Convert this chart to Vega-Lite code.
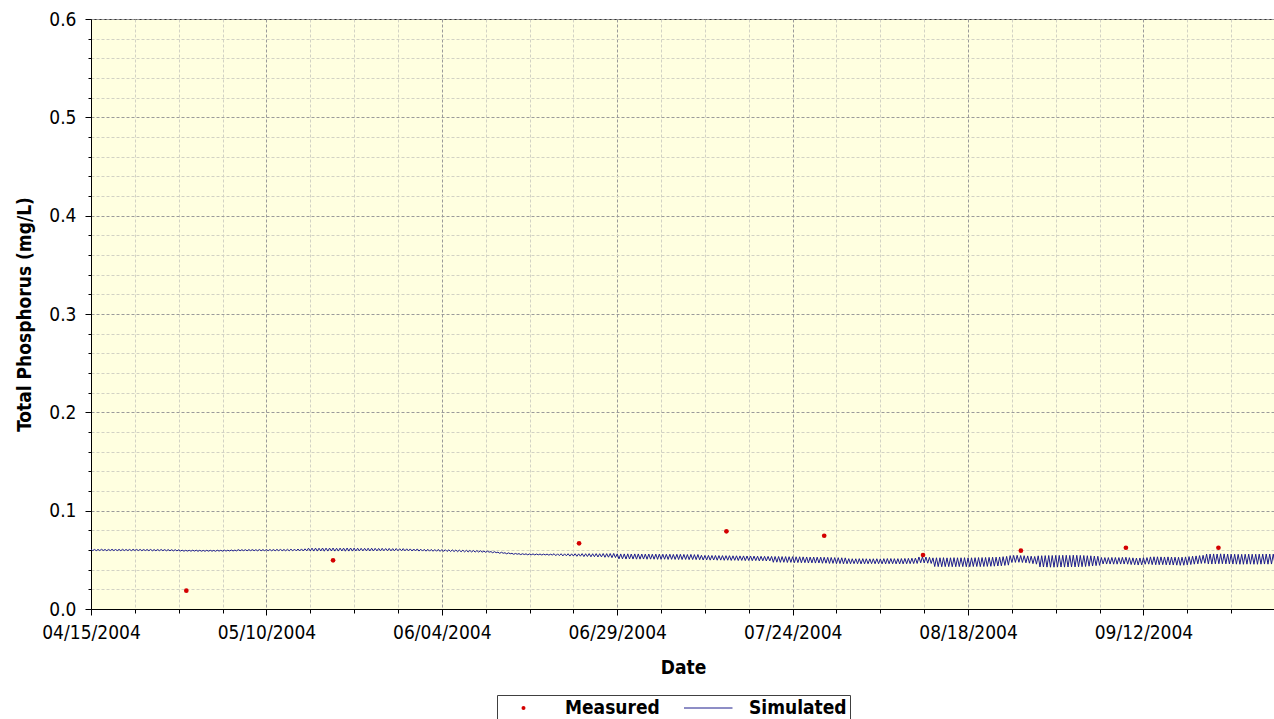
{
"$schema":"https://vega.github.io/schema/vega-lite/v6.json",
"width":1184,"height":590,
"autosize":{"type":"none"},
"padding":{"left":91,"top":19,"right":0,"bottom":110},
"background":"white",
"config":{"view":{"fill":"#FFFFE0","stroke":"#333333","strokeWidth":1},"font":"DejaVu Sans Condensed"},
"datasets":{
"measured":[
{"t":"2004-04-28T14:00","v":0.0186},{"t":"2004-05-19T12:00","v":0.0495},{"t":"2004-06-23T13:30","v":0.0668},{"t":"2004-07-14T13:30","v":0.079},{"t":"2004-07-28T12:00","v":0.0745},{"t":"2004-08-11T14:00","v":0.0549},{"t":"2004-08-25T12:45","v":0.0593},{"t":"2004-09-09T12:00","v":0.0623},{"t":"2004-09-22T16:30","v":0.0623}
],
"simulated":[
{"t":"2004-04-15T00:00","v":0.0607},{"t":"2004-04-15T06:00","v":0.0594},{"t":"2004-04-15T12:00","v":0.0606},{"t":"2004-04-15T18:00","v":0.0593},
{"t":"2004-04-16T00:00","v":0.0606},{"t":"2004-04-16T06:00","v":0.0594},{"t":"2004-04-16T12:00","v":0.0607},{"t":"2004-04-16T18:00","v":0.0595},
{"t":"2004-04-17T00:00","v":0.0605},{"t":"2004-04-17T06:00","v":0.0593},{"t":"2004-04-17T12:00","v":0.0606},{"t":"2004-04-17T18:00","v":0.0594},
{"t":"2004-04-18T00:00","v":0.0607},{"t":"2004-04-18T06:00","v":0.0594},{"t":"2004-04-18T12:00","v":0.0605},{"t":"2004-04-18T18:00","v":0.0594},
{"t":"2004-04-19T00:00","v":0.0606},{"t":"2004-04-19T06:00","v":0.0593},{"t":"2004-04-19T12:00","v":0.0607},{"t":"2004-04-19T18:00","v":0.0594},
{"t":"2004-04-20T00:00","v":0.0605},{"t":"2004-04-20T06:00","v":0.0594},{"t":"2004-04-20T12:00","v":0.0606},{"t":"2004-04-20T18:00","v":0.0593},
{"t":"2004-04-21T00:00","v":0.0607},{"t":"2004-04-21T06:00","v":0.0595},{"t":"2004-04-21T12:00","v":0.0606},{"t":"2004-04-21T18:00","v":0.0594},
{"t":"2004-04-22T00:00","v":0.0606},{"t":"2004-04-22T06:00","v":0.0593},{"t":"2004-04-22T12:00","v":0.0605},{"t":"2004-04-22T18:00","v":0.0594},
{"t":"2004-04-23T00:00","v":0.0605},{"t":"2004-04-23T06:00","v":0.0593},{"t":"2004-04-23T12:00","v":0.0606},{"t":"2004-04-23T18:00","v":0.0592},
{"t":"2004-04-24T00:00","v":0.0604},{"t":"2004-04-24T06:00","v":0.0592},{"t":"2004-04-24T12:00","v":0.0605},{"t":"2004-04-24T18:00","v":0.0593},
{"t":"2004-04-25T00:00","v":0.0605},{"t":"2004-04-25T06:00","v":0.0593},{"t":"2004-04-25T12:00","v":0.0604},{"t":"2004-04-25T18:00","v":0.0592},
{"t":"2004-04-26T00:00","v":0.0604},{"t":"2004-04-26T06:00","v":0.0592},{"t":"2004-04-26T12:00","v":0.0603},{"t":"2004-04-26T18:00","v":0.0591},
{"t":"2004-04-27T00:00","v":0.0603},{"t":"2004-04-27T06:00","v":0.0591},{"t":"2004-04-27T12:00","v":0.0602},{"t":"2004-04-27T18:00","v":0.059},
{"t":"2004-04-28T00:00","v":0.0598},{"t":"2004-04-28T06:00","v":0.0588},{"t":"2004-04-28T12:00","v":0.0597},{"t":"2004-04-28T18:00","v":0.0589},
{"t":"2004-04-29T00:00","v":0.0597},{"t":"2004-04-29T06:00","v":0.0588},{"t":"2004-04-29T12:00","v":0.0598},{"t":"2004-04-29T18:00","v":0.0589},
{"t":"2004-04-30T00:00","v":0.0598},{"t":"2004-04-30T06:00","v":0.0587},{"t":"2004-04-30T12:00","v":0.0597},{"t":"2004-04-30T18:00","v":0.0588},
{"t":"2004-05-01T00:00","v":0.0596},{"t":"2004-05-01T06:00","v":0.0587},{"t":"2004-05-01T12:00","v":0.0597},{"t":"2004-05-01T18:00","v":0.0588},
{"t":"2004-05-02T00:00","v":0.0597},{"t":"2004-05-02T06:00","v":0.0588},{"t":"2004-05-02T12:00","v":0.0596},{"t":"2004-05-02T18:00","v":0.0587},
{"t":"2004-05-03T00:00","v":0.0598},{"t":"2004-05-03T06:00","v":0.0589},{"t":"2004-05-03T12:00","v":0.0597},{"t":"2004-05-03T18:00","v":0.0588},
{"t":"2004-05-04T00:00","v":0.0599},{"t":"2004-05-04T06:00","v":0.0589},{"t":"2004-05-04T12:00","v":0.0598},{"t":"2004-05-04T18:00","v":0.059},
{"t":"2004-05-05T00:00","v":0.06},{"t":"2004-05-05T06:00","v":0.059},{"t":"2004-05-05T12:00","v":0.0599},{"t":"2004-05-05T18:00","v":0.0591},
{"t":"2004-05-06T00:00","v":0.0604},{"t":"2004-05-06T06:00","v":0.0592},{"t":"2004-05-06T12:00","v":0.0603},{"t":"2004-05-06T18:00","v":0.0593},
{"t":"2004-05-07T00:00","v":0.0603},{"t":"2004-05-07T06:00","v":0.0592},{"t":"2004-05-07T12:00","v":0.0604},{"t":"2004-05-07T18:00","v":0.0593},
{"t":"2004-05-08T00:00","v":0.0604},{"t":"2004-05-08T06:00","v":0.0593},{"t":"2004-05-08T12:00","v":0.0603},{"t":"2004-05-08T18:00","v":0.0592},
{"t":"2004-05-09T00:00","v":0.0605},{"t":"2004-05-09T06:00","v":0.0592},{"t":"2004-05-09T12:00","v":0.0604},{"t":"2004-05-09T18:00","v":0.0593},
{"t":"2004-05-10T00:00","v":0.0604},{"t":"2004-05-10T06:00","v":0.0593},{"t":"2004-05-10T12:00","v":0.0605},{"t":"2004-05-10T18:00","v":0.0592},
{"t":"2004-05-11T00:00","v":0.0605},{"t":"2004-05-11T06:00","v":0.0592},{"t":"2004-05-11T12:00","v":0.0606},{"t":"2004-05-11T18:00","v":0.0593},
{"t":"2004-05-12T00:00","v":0.0606},{"t":"2004-05-12T06:00","v":0.0593},{"t":"2004-05-12T12:00","v":0.0605},{"t":"2004-05-12T18:00","v":0.0592},
{"t":"2004-05-13T00:00","v":0.0607},{"t":"2004-05-13T06:00","v":0.0592},{"t":"2004-05-13T12:00","v":0.0608},{"t":"2004-05-13T18:00","v":0.0591},
{"t":"2004-05-14T00:00","v":0.0609},{"t":"2004-05-14T06:00","v":0.0591},{"t":"2004-05-14T12:00","v":0.061},{"t":"2004-05-14T18:00","v":0.059},
{"t":"2004-05-15T00:00","v":0.0611},{"t":"2004-05-15T06:00","v":0.059},{"t":"2004-05-15T12:00","v":0.0612},{"t":"2004-05-15T18:00","v":0.0591},
{"t":"2004-05-16T00:00","v":0.0618},{"t":"2004-05-16T06:00","v":0.059},{"t":"2004-05-16T12:00","v":0.0619},{"t":"2004-05-16T18:00","v":0.0589},
{"t":"2004-05-17T00:00","v":0.0619},{"t":"2004-05-17T06:00","v":0.0589},{"t":"2004-05-17T12:00","v":0.0618},{"t":"2004-05-17T18:00","v":0.059},
{"t":"2004-05-18T00:00","v":0.062},{"t":"2004-05-18T06:00","v":0.0588},{"t":"2004-05-18T12:00","v":0.0619},{"t":"2004-05-18T18:00","v":0.0589},
{"t":"2004-05-19T00:00","v":0.0619},{"t":"2004-05-19T06:00","v":0.059},{"t":"2004-05-19T12:00","v":0.062},{"t":"2004-05-19T18:00","v":0.0589},
{"t":"2004-05-20T00:00","v":0.0618},{"t":"2004-05-20T06:00","v":0.0589},{"t":"2004-05-20T12:00","v":0.0619},{"t":"2004-05-20T18:00","v":0.059},
{"t":"2004-05-21T00:00","v":0.0619},{"t":"2004-05-21T06:00","v":0.0588},{"t":"2004-05-21T12:00","v":0.062},{"t":"2004-05-21T18:00","v":0.0589},
{"t":"2004-05-22T00:00","v":0.062},{"t":"2004-05-22T06:00","v":0.0589},{"t":"2004-05-22T12:00","v":0.0619},{"t":"2004-05-22T18:00","v":0.059},
{"t":"2004-05-23T00:00","v":0.0618},{"t":"2004-05-23T06:00","v":0.059},{"t":"2004-05-23T12:00","v":0.0617},{"t":"2004-05-23T18:00","v":0.0591},
{"t":"2004-05-24T00:00","v":0.0617},{"t":"2004-05-24T06:00","v":0.0591},{"t":"2004-05-24T12:00","v":0.0618},{"t":"2004-05-24T18:00","v":0.059},
{"t":"2004-05-25T00:00","v":0.0618},{"t":"2004-05-25T06:00","v":0.059},{"t":"2004-05-25T12:00","v":0.0617},{"t":"2004-05-25T18:00","v":0.0591},
{"t":"2004-05-26T00:00","v":0.0616},{"t":"2004-05-26T06:00","v":0.0591},{"t":"2004-05-26T12:00","v":0.0617},{"t":"2004-05-26T18:00","v":0.0592},
{"t":"2004-05-27T00:00","v":0.0615},{"t":"2004-05-27T06:00","v":0.0592},{"t":"2004-05-27T12:00","v":0.0616},{"t":"2004-05-27T18:00","v":0.0591},
{"t":"2004-05-28T00:00","v":0.0614},{"t":"2004-05-28T06:00","v":0.0591},{"t":"2004-05-28T12:00","v":0.0615},{"t":"2004-05-28T18:00","v":0.0592},
{"t":"2004-05-29T00:00","v":0.0613},{"t":"2004-05-29T06:00","v":0.0592},{"t":"2004-05-29T12:00","v":0.0614},{"t":"2004-05-29T18:00","v":0.0591},
{"t":"2004-05-30T00:00","v":0.0612},{"t":"2004-05-30T06:00","v":0.0591},{"t":"2004-05-30T12:00","v":0.0611},{"t":"2004-05-30T18:00","v":0.059},
{"t":"2004-05-31T00:00","v":0.061},{"t":"2004-05-31T06:00","v":0.059},{"t":"2004-05-31T12:00","v":0.0611},{"t":"2004-05-31T18:00","v":0.0589},
{"t":"2004-06-01T00:00","v":0.0608},{"t":"2004-06-01T06:00","v":0.0589},{"t":"2004-06-01T12:00","v":0.0607},{"t":"2004-06-01T18:00","v":0.0588},
{"t":"2004-06-02T00:00","v":0.0607},{"t":"2004-06-02T06:00","v":0.0588},{"t":"2004-06-02T12:00","v":0.0606},{"t":"2004-06-02T18:00","v":0.0587},
{"t":"2004-06-03T00:00","v":0.0605},{"t":"2004-06-03T06:00","v":0.0587},{"t":"2004-06-03T12:00","v":0.0606},{"t":"2004-06-03T18:00","v":0.0586},
{"t":"2004-06-04T00:00","v":0.0604},{"t":"2004-06-04T06:00","v":0.0586},{"t":"2004-06-04T12:00","v":0.0603},{"t":"2004-06-04T18:00","v":0.0585},
{"t":"2004-06-05T00:00","v":0.0602},{"t":"2004-06-05T06:00","v":0.0585},{"t":"2004-06-05T12:00","v":0.0601},{"t":"2004-06-05T18:00","v":0.0584},
{"t":"2004-06-06T00:00","v":0.06},{"t":"2004-06-06T06:00","v":0.0583},{"t":"2004-06-06T12:00","v":0.0599},{"t":"2004-06-06T18:00","v":0.0582},
{"t":"2004-06-07T00:00","v":0.0598},{"t":"2004-06-07T06:00","v":0.0581},{"t":"2004-06-07T12:00","v":0.0597},{"t":"2004-06-07T18:00","v":0.058},
{"t":"2004-06-08T00:00","v":0.0596},{"t":"2004-06-08T06:00","v":0.058},{"t":"2004-06-08T12:00","v":0.0595},{"t":"2004-06-08T18:00","v":0.0579},
{"t":"2004-06-09T00:00","v":0.0594},{"t":"2004-06-09T06:00","v":0.0579},{"t":"2004-06-09T12:00","v":0.0593},{"t":"2004-06-09T18:00","v":0.0578},
{"t":"2004-06-10T00:00","v":0.0589},{"t":"2004-06-10T06:00","v":0.0577},{"t":"2004-06-10T12:00","v":0.0588},{"t":"2004-06-10T18:00","v":0.0578},
{"t":"2004-06-11T00:00","v":0.0584},{"t":"2004-06-11T06:00","v":0.0572},{"t":"2004-06-11T12:00","v":0.0583},{"t":"2004-06-11T18:00","v":0.0573},
{"t":"2004-06-12T00:00","v":0.0578},{"t":"2004-06-12T06:00","v":0.0566},{"t":"2004-06-12T12:00","v":0.0577},{"t":"2004-06-12T18:00","v":0.0567},
{"t":"2004-06-13T00:00","v":0.0572},{"t":"2004-06-13T06:00","v":0.0561},{"t":"2004-06-13T12:00","v":0.0571},{"t":"2004-06-13T18:00","v":0.0562},
{"t":"2004-06-14T00:00","v":0.0566},{"t":"2004-06-14T06:00","v":0.0556},{"t":"2004-06-14T12:00","v":0.0565},{"t":"2004-06-14T18:00","v":0.0557},
{"t":"2004-06-15T00:00","v":0.0563},{"t":"2004-06-15T06:00","v":0.0553},{"t":"2004-06-15T12:00","v":0.0562},{"t":"2004-06-15T18:00","v":0.0554},
{"t":"2004-06-16T00:00","v":0.0561},{"t":"2004-06-16T06:00","v":0.0551},{"t":"2004-06-16T12:00","v":0.056},{"t":"2004-06-16T18:00","v":0.0552},
{"t":"2004-06-17T00:00","v":0.056},{"t":"2004-06-17T06:00","v":0.055},{"t":"2004-06-17T12:00","v":0.0559},{"t":"2004-06-17T18:00","v":0.0551},
{"t":"2004-06-18T00:00","v":0.0559},{"t":"2004-06-18T06:00","v":0.0549},{"t":"2004-06-18T12:00","v":0.0558},{"t":"2004-06-18T18:00","v":0.055},
{"t":"2004-06-19T00:00","v":0.0558},{"t":"2004-06-19T06:00","v":0.0548},{"t":"2004-06-19T12:00","v":0.0557},{"t":"2004-06-19T18:00","v":0.0549},
{"t":"2004-06-20T00:00","v":0.0562},{"t":"2004-06-20T06:00","v":0.0542},{"t":"2004-06-20T12:00","v":0.0561},{"t":"2004-06-20T18:00","v":0.0543},
{"t":"2004-06-21T00:00","v":0.0562},{"t":"2004-06-21T06:00","v":0.054},{"t":"2004-06-21T12:00","v":0.0561},{"t":"2004-06-21T18:00","v":0.0541},
{"t":"2004-06-22T00:00","v":0.0562},{"t":"2004-06-22T06:00","v":0.0538},{"t":"2004-06-22T12:00","v":0.0561},{"t":"2004-06-22T18:00","v":0.0539},
{"t":"2004-06-23T00:00","v":0.0562},{"t":"2004-06-23T06:00","v":0.0536},{"t":"2004-06-23T12:00","v":0.0561},{"t":"2004-06-23T18:00","v":0.0537},
{"t":"2004-06-24T00:00","v":0.0563},{"t":"2004-06-24T06:00","v":0.0533},{"t":"2004-06-24T12:00","v":0.0562},{"t":"2004-06-24T18:00","v":0.0534},
{"t":"2004-06-25T00:00","v":0.0563},{"t":"2004-06-25T06:00","v":0.0531},{"t":"2004-06-25T12:00","v":0.0562},{"t":"2004-06-25T18:00","v":0.0532},
{"t":"2004-06-26T00:00","v":0.0563},{"t":"2004-06-26T06:00","v":0.0529},{"t":"2004-06-26T12:00","v":0.0562},{"t":"2004-06-26T18:00","v":0.053},
{"t":"2004-06-27T00:00","v":0.0564},{"t":"2004-06-27T06:00","v":0.0526},{"t":"2004-06-27T12:00","v":0.0563},{"t":"2004-06-27T18:00","v":0.0527},
{"t":"2004-06-28T00:00","v":0.0564},{"t":"2004-06-28T06:00","v":0.0522},{"t":"2004-06-28T12:00","v":0.0565},{"t":"2004-06-28T18:00","v":0.0523},
{"t":"2004-06-29T00:00","v":0.0561},{"t":"2004-06-29T06:00","v":0.0509},{"t":"2004-06-29T12:00","v":0.056},{"t":"2004-06-29T18:00","v":0.051},
{"t":"2004-06-30T00:00","v":0.056},{"t":"2004-06-30T06:00","v":0.0508},{"t":"2004-06-30T12:00","v":0.0561},{"t":"2004-06-30T18:00","v":0.0509},
{"t":"2004-07-01T00:00","v":0.0559},{"t":"2004-07-01T06:00","v":0.0508},{"t":"2004-07-01T12:00","v":0.056},{"t":"2004-07-01T18:00","v":0.0507},
{"t":"2004-07-02T00:00","v":0.056},{"t":"2004-07-02T06:00","v":0.0507},{"t":"2004-07-02T12:00","v":0.0559},{"t":"2004-07-02T18:00","v":0.0508},
{"t":"2004-07-03T00:00","v":0.0558},{"t":"2004-07-03T06:00","v":0.0506},{"t":"2004-07-03T12:00","v":0.0559},{"t":"2004-07-03T18:00","v":0.0507},
{"t":"2004-07-04T00:00","v":0.0557},{"t":"2004-07-04T06:00","v":0.0506},{"t":"2004-07-04T12:00","v":0.0558},{"t":"2004-07-04T18:00","v":0.0505},
{"t":"2004-07-05T00:00","v":0.0558},{"t":"2004-07-05T06:00","v":0.0505},{"t":"2004-07-05T12:00","v":0.0557},{"t":"2004-07-05T18:00","v":0.0506},
{"t":"2004-07-06T00:00","v":0.0556},{"t":"2004-07-06T06:00","v":0.0504},{"t":"2004-07-06T12:00","v":0.0557},{"t":"2004-07-06T18:00","v":0.0505},
{"t":"2004-07-07T00:00","v":0.0555},{"t":"2004-07-07T06:00","v":0.0504},{"t":"2004-07-07T12:00","v":0.0556},{"t":"2004-07-07T18:00","v":0.0503},
{"t":"2004-07-08T00:00","v":0.0556},{"t":"2004-07-08T06:00","v":0.0503},{"t":"2004-07-08T12:00","v":0.0555},{"t":"2004-07-08T18:00","v":0.0504},
{"t":"2004-07-09T00:00","v":0.0554},{"t":"2004-07-09T06:00","v":0.0502},{"t":"2004-07-09T12:00","v":0.0555},{"t":"2004-07-09T18:00","v":0.0503},
{"t":"2004-07-10T00:00","v":0.0553},{"t":"2004-07-10T06:00","v":0.0502},{"t":"2004-07-10T12:00","v":0.0554},{"t":"2004-07-10T18:00","v":0.0501},
{"t":"2004-07-11T00:00","v":0.0546},{"t":"2004-07-11T06:00","v":0.0498},{"t":"2004-07-11T12:00","v":0.0545},{"t":"2004-07-11T18:00","v":0.0499},
{"t":"2004-07-12T00:00","v":0.0545},{"t":"2004-07-12T06:00","v":0.0497},{"t":"2004-07-12T12:00","v":0.0544},{"t":"2004-07-12T18:00","v":0.0498},
{"t":"2004-07-13T00:00","v":0.0544},{"t":"2004-07-13T06:00","v":0.0496},{"t":"2004-07-13T12:00","v":0.0543},{"t":"2004-07-13T18:00","v":0.0497},
{"t":"2004-07-14T00:00","v":0.0543},{"t":"2004-07-14T06:00","v":0.0495},{"t":"2004-07-14T12:00","v":0.0542},{"t":"2004-07-14T18:00","v":0.0496},
{"t":"2004-07-15T00:00","v":0.0542},{"t":"2004-07-15T06:00","v":0.0494},{"t":"2004-07-15T12:00","v":0.0541},{"t":"2004-07-15T18:00","v":0.0495},
{"t":"2004-07-16T00:00","v":0.0541},{"t":"2004-07-16T06:00","v":0.0493},{"t":"2004-07-16T12:00","v":0.054},{"t":"2004-07-16T18:00","v":0.0494},
{"t":"2004-07-17T00:00","v":0.054},{"t":"2004-07-17T06:00","v":0.0492},{"t":"2004-07-17T12:00","v":0.0539},{"t":"2004-07-17T18:00","v":0.0493},
{"t":"2004-07-18T00:00","v":0.0539},{"t":"2004-07-18T06:00","v":0.0491},{"t":"2004-07-18T12:00","v":0.0538},{"t":"2004-07-18T18:00","v":0.0492},
{"t":"2004-07-19T00:00","v":0.0537},{"t":"2004-07-19T06:00","v":0.0489},{"t":"2004-07-19T12:00","v":0.0536},{"t":"2004-07-19T18:00","v":0.049},
{"t":"2004-07-20T00:00","v":0.0536},{"t":"2004-07-20T06:00","v":0.0488},{"t":"2004-07-20T12:00","v":0.0535},{"t":"2004-07-20T18:00","v":0.0489},
{"t":"2004-07-21T00:00","v":0.0535},{"t":"2004-07-21T06:00","v":0.0475},{"t":"2004-07-21T12:00","v":0.0534},{"t":"2004-07-21T18:00","v":0.0476},
{"t":"2004-07-22T00:00","v":0.0534},{"t":"2004-07-22T06:00","v":0.0474},{"t":"2004-07-22T12:00","v":0.0533},{"t":"2004-07-22T18:00","v":0.0475},
{"t":"2004-07-23T00:00","v":0.0533},{"t":"2004-07-23T06:00","v":0.0473},{"t":"2004-07-23T12:00","v":0.0532},{"t":"2004-07-23T18:00","v":0.0474},
{"t":"2004-07-24T00:00","v":0.0532},{"t":"2004-07-24T06:00","v":0.0471},{"t":"2004-07-24T12:00","v":0.0531},{"t":"2004-07-24T18:00","v":0.0472},
{"t":"2004-07-25T00:00","v":0.0531},{"t":"2004-07-25T06:00","v":0.047},{"t":"2004-07-25T12:00","v":0.053},{"t":"2004-07-25T18:00","v":0.0471},
{"t":"2004-07-26T00:00","v":0.0529},{"t":"2004-07-26T06:00","v":0.0468},{"t":"2004-07-26T12:00","v":0.0528},{"t":"2004-07-26T18:00","v":0.0469},
{"t":"2004-07-27T00:00","v":0.0528},{"t":"2004-07-27T06:00","v":0.0467},{"t":"2004-07-27T12:00","v":0.0527},{"t":"2004-07-27T18:00","v":0.0468},
{"t":"2004-07-28T00:00","v":0.0527},{"t":"2004-07-28T06:00","v":0.0465},{"t":"2004-07-28T12:00","v":0.0526},{"t":"2004-07-28T18:00","v":0.0466},
{"t":"2004-07-29T00:00","v":0.0525},{"t":"2004-07-29T06:00","v":0.0463},{"t":"2004-07-29T12:00","v":0.0524},{"t":"2004-07-29T18:00","v":0.0464},
{"t":"2004-07-30T00:00","v":0.0523},{"t":"2004-07-30T06:00","v":0.0461},{"t":"2004-07-30T12:00","v":0.0522},{"t":"2004-07-30T18:00","v":0.0462},
{"t":"2004-07-31T00:00","v":0.0521},{"t":"2004-07-31T06:00","v":0.0459},{"t":"2004-07-31T12:00","v":0.052},{"t":"2004-07-31T18:00","v":0.046},
{"t":"2004-08-01T00:00","v":0.0512},{"t":"2004-08-01T06:00","v":0.046},{"t":"2004-08-01T12:00","v":0.0511},{"t":"2004-08-01T18:00","v":0.0461},
{"t":"2004-08-02T00:00","v":0.0511},{"t":"2004-08-02T06:00","v":0.046},{"t":"2004-08-02T12:00","v":0.0512},{"t":"2004-08-02T18:00","v":0.0459},
{"t":"2004-08-03T00:00","v":0.0512},{"t":"2004-08-03T06:00","v":0.0459},{"t":"2004-08-03T12:00","v":0.0511},{"t":"2004-08-03T18:00","v":0.046},
{"t":"2004-08-04T00:00","v":0.051},{"t":"2004-08-04T06:00","v":0.0461},{"t":"2004-08-04T12:00","v":0.0511},{"t":"2004-08-04T18:00","v":0.046},
{"t":"2004-08-05T00:00","v":0.0511},{"t":"2004-08-05T06:00","v":0.046},{"t":"2004-08-05T12:00","v":0.051},{"t":"2004-08-05T18:00","v":0.0459},
{"t":"2004-08-06T00:00","v":0.0512},{"t":"2004-08-06T06:00","v":0.0459},{"t":"2004-08-06T12:00","v":0.0513},{"t":"2004-08-06T18:00","v":0.046},
{"t":"2004-08-07T00:00","v":0.0513},{"t":"2004-08-07T06:00","v":0.046},{"t":"2004-08-07T12:00","v":0.0512},{"t":"2004-08-07T18:00","v":0.0459},
{"t":"2004-08-08T00:00","v":0.0512},{"t":"2004-08-08T06:00","v":0.0458},{"t":"2004-08-08T12:00","v":0.0513},{"t":"2004-08-08T18:00","v":0.0459},
{"t":"2004-08-09T00:00","v":0.0514},{"t":"2004-08-09T06:00","v":0.046},{"t":"2004-08-09T12:00","v":0.0515},{"t":"2004-08-09T18:00","v":0.0461},
{"t":"2004-08-10T00:00","v":0.0516},{"t":"2004-08-10T06:00","v":0.0462},{"t":"2004-08-10T12:00","v":0.0518},{"t":"2004-08-10T18:00","v":0.0463},
{"t":"2004-08-11T00:00","v":0.0529},{"t":"2004-08-11T06:00","v":0.047},{"t":"2004-08-11T12:00","v":0.0531},{"t":"2004-08-11T18:00","v":0.0469},
{"t":"2004-08-12T00:00","v":0.0528},{"t":"2004-08-12T06:00","v":0.0466},{"t":"2004-08-12T12:00","v":0.0525},{"t":"2004-08-12T18:00","v":0.0463},
{"t":"2004-08-13T00:00","v":0.052},{"t":"2004-08-13T06:00","v":0.0432},{"t":"2004-08-13T12:00","v":0.0521},{"t":"2004-08-13T18:00","v":0.0431},
{"t":"2004-08-14T00:00","v":0.0521},{"t":"2004-08-14T06:00","v":0.043},{"t":"2004-08-14T12:00","v":0.0522},{"t":"2004-08-14T18:00","v":0.0431},
{"t":"2004-08-15T00:00","v":0.052},{"t":"2004-08-15T06:00","v":0.0431},{"t":"2004-08-15T12:00","v":0.0521},{"t":"2004-08-15T18:00","v":0.043},
{"t":"2004-08-16T00:00","v":0.0522},{"t":"2004-08-16T06:00","v":0.043},{"t":"2004-08-16T12:00","v":0.0521},{"t":"2004-08-16T18:00","v":0.0431},
{"t":"2004-08-17T00:00","v":0.0521},{"t":"2004-08-17T06:00","v":0.0431},{"t":"2004-08-17T12:00","v":0.0522},{"t":"2004-08-17T18:00","v":0.043},
{"t":"2004-08-18T00:00","v":0.052},{"t":"2004-08-18T06:00","v":0.043},{"t":"2004-08-18T12:00","v":0.0521},{"t":"2004-08-18T18:00","v":0.0432},
{"t":"2004-08-19T00:00","v":0.0522},{"t":"2004-08-19T06:00","v":0.0432},{"t":"2004-08-19T12:00","v":0.0523},{"t":"2004-08-19T18:00","v":0.0431},
{"t":"2004-08-20T00:00","v":0.0523},{"t":"2004-08-20T06:00","v":0.0432},{"t":"2004-08-20T12:00","v":0.0524},{"t":"2004-08-20T18:00","v":0.0433},
{"t":"2004-08-21T00:00","v":0.0525},{"t":"2004-08-21T06:00","v":0.0434},{"t":"2004-08-21T12:00","v":0.0526},{"t":"2004-08-21T18:00","v":0.0435},
{"t":"2004-08-22T00:00","v":0.0527},{"t":"2004-08-22T06:00","v":0.0437},{"t":"2004-08-22T12:00","v":0.0529},{"t":"2004-08-22T18:00","v":0.0439},
{"t":"2004-08-23T00:00","v":0.0532},{"t":"2004-08-23T06:00","v":0.0443},{"t":"2004-08-23T12:00","v":0.0535},{"t":"2004-08-23T18:00","v":0.0446},
{"t":"2004-08-24T00:00","v":0.0543},{"t":"2004-08-24T06:00","v":0.0473},{"t":"2004-08-24T12:00","v":0.0545},{"t":"2004-08-24T18:00","v":0.0474},
{"t":"2004-08-25T00:00","v":0.0546},{"t":"2004-08-25T06:00","v":0.0475},{"t":"2004-08-25T12:00","v":0.0544},{"t":"2004-08-25T18:00","v":0.0473},
{"t":"2004-08-26T00:00","v":0.0542},{"t":"2004-08-26T06:00","v":0.047},{"t":"2004-08-26T12:00","v":0.054},{"t":"2004-08-26T18:00","v":0.0466},
{"t":"2004-08-27T00:00","v":0.0537},{"t":"2004-08-27T06:00","v":0.0461},{"t":"2004-08-27T12:00","v":0.0534},{"t":"2004-08-27T18:00","v":0.0456},
{"t":"2004-08-28T00:00","v":0.0541},{"t":"2004-08-28T06:00","v":0.0428},{"t":"2004-08-28T12:00","v":0.0542},{"t":"2004-08-28T18:00","v":0.0427},
{"t":"2004-08-29T00:00","v":0.0543},{"t":"2004-08-29T06:00","v":0.0426},{"t":"2004-08-29T12:00","v":0.0544},{"t":"2004-08-29T18:00","v":0.0425},
{"t":"2004-08-30T00:00","v":0.0544},{"t":"2004-08-30T06:00","v":0.0425},{"t":"2004-08-30T12:00","v":0.0545},{"t":"2004-08-30T18:00","v":0.0426},
{"t":"2004-08-31T00:00","v":0.0545},{"t":"2004-08-31T06:00","v":0.0427},{"t":"2004-08-31T12:00","v":0.0546},{"t":"2004-08-31T18:00","v":0.0426},
{"t":"2004-09-01T00:00","v":0.0546},{"t":"2004-09-01T06:00","v":0.0427},{"t":"2004-09-01T12:00","v":0.0545},{"t":"2004-09-01T18:00","v":0.0428},
{"t":"2004-09-02T00:00","v":0.0547},{"t":"2004-09-02T06:00","v":0.0428},{"t":"2004-09-02T12:00","v":0.0546},{"t":"2004-09-02T18:00","v":0.0429},
{"t":"2004-09-03T00:00","v":0.0545},{"t":"2004-09-03T06:00","v":0.043},{"t":"2004-09-03T12:00","v":0.0544},{"t":"2004-09-03T18:00","v":0.0432},
{"t":"2004-09-04T00:00","v":0.0542},{"t":"2004-09-04T06:00","v":0.0435},{"t":"2004-09-04T12:00","v":0.0541},{"t":"2004-09-04T18:00","v":0.0437},
{"t":"2004-09-05T00:00","v":0.0538},{"t":"2004-09-05T06:00","v":0.0441},{"t":"2004-09-05T12:00","v":0.0536},{"t":"2004-09-05T18:00","v":0.0444},
{"t":"2004-09-06T00:00","v":0.0524},{"t":"2004-09-06T06:00","v":0.0458},{"t":"2004-09-06T12:00","v":0.0523},{"t":"2004-09-06T18:00","v":0.0457},
{"t":"2004-09-07T00:00","v":0.0523},{"t":"2004-09-07T06:00","v":0.0457},{"t":"2004-09-07T12:00","v":0.0524},{"t":"2004-09-07T18:00","v":0.0456},
{"t":"2004-09-08T00:00","v":0.0524},{"t":"2004-09-08T06:00","v":0.0456},{"t":"2004-09-08T12:00","v":0.0523},{"t":"2004-09-08T18:00","v":0.0457},
{"t":"2004-09-09T00:00","v":0.0525},{"t":"2004-09-09T06:00","v":0.0457},{"t":"2004-09-09T12:00","v":0.0526},{"t":"2004-09-09T18:00","v":0.0456},
{"t":"2004-09-10T00:00","v":0.0522},{"t":"2004-09-10T06:00","v":0.0452},{"t":"2004-09-10T12:00","v":0.052},{"t":"2004-09-10T18:00","v":0.045},
{"t":"2004-09-11T00:00","v":0.0518},{"t":"2004-09-11T06:00","v":0.0447},{"t":"2004-09-11T12:00","v":0.0519},{"t":"2004-09-11T18:00","v":0.0449},
{"t":"2004-09-12T00:00","v":0.0522},{"t":"2004-09-12T06:00","v":0.0455},{"t":"2004-09-12T12:00","v":0.0523},{"t":"2004-09-12T18:00","v":0.0456},
{"t":"2004-09-13T00:00","v":0.053},{"t":"2004-09-13T06:00","v":0.0451},{"t":"2004-09-13T12:00","v":0.0531},{"t":"2004-09-13T18:00","v":0.045},
{"t":"2004-09-14T00:00","v":0.0531},{"t":"2004-09-14T06:00","v":0.045},{"t":"2004-09-14T12:00","v":0.053},{"t":"2004-09-14T18:00","v":0.0451},
{"t":"2004-09-15T00:00","v":0.0529},{"t":"2004-09-15T06:00","v":0.0449},{"t":"2004-09-15T12:00","v":0.053},{"t":"2004-09-15T18:00","v":0.0448},
{"t":"2004-09-16T00:00","v":0.0528},{"t":"2004-09-16T06:00","v":0.0447},{"t":"2004-09-16T12:00","v":0.0527},{"t":"2004-09-16T18:00","v":0.0446},
{"t":"2004-09-17T00:00","v":0.0526},{"t":"2004-09-17T06:00","v":0.0444},{"t":"2004-09-17T12:00","v":0.0527},{"t":"2004-09-17T18:00","v":0.0445},
{"t":"2004-09-18T00:00","v":0.053},{"t":"2004-09-18T06:00","v":0.0448},{"t":"2004-09-18T12:00","v":0.0533},{"t":"2004-09-18T18:00","v":0.0452},
{"t":"2004-09-19T00:00","v":0.0537},{"t":"2004-09-19T06:00","v":0.0456},{"t":"2004-09-19T12:00","v":0.054},{"t":"2004-09-19T18:00","v":0.0459},
{"t":"2004-09-20T00:00","v":0.0543},{"t":"2004-09-20T06:00","v":0.0463},{"t":"2004-09-20T12:00","v":0.0546},{"t":"2004-09-20T18:00","v":0.0465},
{"t":"2004-09-21T00:00","v":0.0558},{"t":"2004-09-21T06:00","v":0.0458},{"t":"2004-09-21T12:00","v":0.0559},{"t":"2004-09-21T18:00","v":0.0457},
{"t":"2004-09-22T00:00","v":0.056},{"t":"2004-09-22T06:00","v":0.0459},{"t":"2004-09-22T12:00","v":0.0559},{"t":"2004-09-22T18:00","v":0.046},
{"t":"2004-09-23T00:00","v":0.0561},{"t":"2004-09-23T06:00","v":0.046},{"t":"2004-09-23T12:00","v":0.056},{"t":"2004-09-23T18:00","v":0.0459},
{"t":"2004-09-24T00:00","v":0.0559},{"t":"2004-09-24T06:00","v":0.0458},{"t":"2004-09-24T12:00","v":0.0558},{"t":"2004-09-24T18:00","v":0.0457},
{"t":"2004-09-25T00:00","v":0.0557},{"t":"2004-09-25T06:00","v":0.0456},{"t":"2004-09-25T12:00","v":0.0556},{"t":"2004-09-25T18:00","v":0.0455},
{"t":"2004-09-26T00:00","v":0.0556},{"t":"2004-09-26T06:00","v":0.0455},{"t":"2004-09-26T12:00","v":0.0557},{"t":"2004-09-26T18:00","v":0.0456},
{"t":"2004-09-27T00:00","v":0.0558},{"t":"2004-09-27T06:00","v":0.0456},{"t":"2004-09-27T12:00","v":0.0557},{"t":"2004-09-27T18:00","v":0.0455},
{"t":"2004-09-28T00:00","v":0.0557},{"t":"2004-09-28T06:00","v":0.0455},{"t":"2004-09-28T12:00","v":0.0558},{"t":"2004-09-28T18:00","v":0.0456},
{"t":"2004-09-29T00:00","v":0.0558},{"t":"2004-09-29T06:00","v":0.0457},{"t":"2004-09-29T12:00","v":0.0559},{"t":"2004-09-29T18:00","v":0.0456},
{"t":"2004-09-30T00:00","v":0.0559},{"t":"2004-09-30T06:00","v":0.0457},{"t":"2004-09-30T12:00","v":0.0558},{"t":"2004-09-30T18:00","v":0.0458},
{"t":"2004-10-01T00:00","v":0.0559}
]},
"encoding":{
"x":{"field":"t","type":"temporal",
 "scale":{"domain":[{"year":2004,"month":4,"date":15},{"year":2004,"month":9,"date":30,"hours":18}],"nice":false},
 "axis":{"title":"Date","titleFont":"DejaVu Sans Condensed","titleFontSize":19,"titleFontWeight":"bold","titleColor":"#000000","titlePadding":16,
  "values":[{"year":2004,"month":4,"date":15},{"year":2004,"month":4,"date":21,"hours":6},{"year":2004,"month":4,"date":27,"hours":12},{"year":2004,"month":5,"date":3,"hours":18},
   {"year":2004,"month":5,"date":10},{"year":2004,"month":5,"date":16,"hours":6},{"year":2004,"month":5,"date":22,"hours":12},{"year":2004,"month":5,"date":28,"hours":18},
   {"year":2004,"month":6,"date":4},{"year":2004,"month":6,"date":10,"hours":6},{"year":2004,"month":6,"date":16,"hours":12},{"year":2004,"month":6,"date":22,"hours":18},
   {"year":2004,"month":6,"date":29},{"year":2004,"month":7,"date":5,"hours":6},{"year":2004,"month":7,"date":11,"hours":12},{"year":2004,"month":7,"date":17,"hours":18},
   {"year":2004,"month":7,"date":24},{"year":2004,"month":7,"date":30,"hours":6},{"year":2004,"month":8,"date":5,"hours":12},{"year":2004,"month":8,"date":11,"hours":18},
   {"year":2004,"month":8,"date":18},{"year":2004,"month":8,"date":24,"hours":6},{"year":2004,"month":8,"date":30,"hours":12},{"year":2004,"month":9,"date":5,"hours":18},
   {"year":2004,"month":9,"date":12},{"year":2004,"month":9,"date":18,"hours":6},{"year":2004,"month":9,"date":24,"hours":12},{"year":2004,"month":9,"date":30,"hours":18}],
  "labelExpr":"hours(datum.value) == 0 ? timeFormat(datum.value, '%m/%d/%Y') : ''",
  "labelFont":"DejaVu Sans Condensed","labelFontSize":19,"labelColor":"#000000","labelPadding":8,"labelOverlap":false,"labelFlush":false,"labelBound":false,
  "tickSize":{"condition":{"test":"hours(datum.value) == 0","value":6},"value":4},"tickColor":"#000000","domainColor":"#000000",
  "grid":true,"gridColor":{"condition":{"test":"hours(datum.value) == 0","value":"#9a9a9a"},"value":"#d2d2c4"},"gridDash":[3,2]}},
"y":{"field":"v","type":"quantitative",
 "scale":{"domain":[0,0.6],"nice":false,"zero":true},
 "axis":{"title":"Total Phosphorus (mg/L)","titleFont":"DejaVu Sans Condensed","titleFontSize":19,"titleFontWeight":"bold","titleColor":"#000000","titlePadding":14,
  "values":[0,0.02,0.04,0.06,0.08,0.1,0.12,0.14,0.16,0.18,0.2,0.22,0.24,0.26,0.28,0.3,0.32,0.34,0.36,0.38,0.4,0.42,0.44,0.46,0.48,0.5,0.52,0.54,0.56,0.58,0.6],
  "labelExpr":"abs(datum.value*10 - round(datum.value*10)) < 0.000001 ? format(datum.value, '.1f') : ''",
  "labelFont":"DejaVu Sans Condensed","labelFontSize":19,"labelColor":"#000000","labelPadding":9,"labelOverlap":false,"labelFlush":false,"labelBound":false,
  "tickSize":{"condition":{"test":"abs(datum.value*10 - round(datum.value*10)) < 0.000001","value":6},"value":3},"tickColor":"#000000","domainColor":"#000000",
  "grid":true,"gridColor":{"condition":{"test":"abs(datum.value*10 - round(datum.value*10)) < 0.000001","value":"#9a9a9a"},"value":"#d2d2c4"},"gridDash":[3,2]}}
},
"layer":[
{"data":{"name":"simulated"},"mark":{"type":"line","strokeWidth":1},
 "encoding":{"color":{"datum":"Simulated","type":"nominal",
  "scale":{"domain":["Measured","Simulated"],"range":["#d40000","#1c1c8c"]},
  "legend":{"title":null,"orient":"none","legendX":406,"legendY":676,"direction":"horizontal","strokeColor":"#404040","fillColor":"#ffffff","padding":3,
   "labelFont":"DejaVu Sans Condensed","labelFontSize":19,"labelFontWeight":"bold","labelColor":"#000000","labelOffset":18,"columnPadding":24,"clipHeight":20,
   "symbolSize":2500,"symbolStrokeWidth":1,
   "encode":{"symbols":{"update":{
     "shape":{"signal":"datum.value === 'Simulated' ? 'stroke' : 'circle'"},
     "size":{"signal":"datum.value === 'Simulated' ? 2500 : 16"},
     "strokeWidth":{"signal":"datum.value === 'Simulated' ? 1 : 47"},
     "strokeOpacity":{"signal":"datum.value === 'Simulated' ? 1 : 0"},
     "stroke":{"signal":"datum.value === 'Simulated' ? '#1c1c8c' : null"}}}}}}}},
{"data":{"name":"measured"},"mark":{"type":"point","filled":true,"size":22,"opacity":1},
 "encoding":{"color":{"datum":"Measured","type":"nominal"}}}
]
}
